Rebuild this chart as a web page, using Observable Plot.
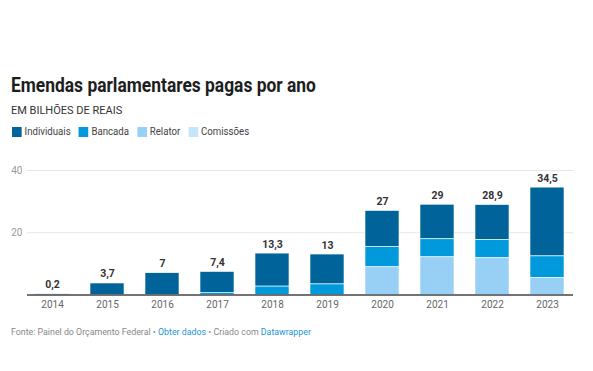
<!DOCTYPE html>
<html><head><meta charset="utf-8">
<script src="https://cdn.jsdelivr.net/npm/d3@7"></script>
<script src="https://cdn.jsdelivr.net/npm/@observablehq/plot@0.6"></script>
<style>
body{margin:0;background:#fff;font-family:Roboto,sans-serif;}
#wrap{position:relative;width:593px;height:371px;overflow:hidden;}
.t{position:absolute;left:11px;white-space:nowrap;}
#title{top:75px;font-size:20px;line-height:20px;font-weight:700;color:#1d1d1d;transform:scaleX(0.87);transform-origin:left center;}
#sub{top:105px;font-size:11px;line-height:11px;color:#333;}
#legend{top:126.5px;left:12px;font-size:10px;line-height:10px;color:#444;display:flex;align-items:center;transform:scaleX(0.965);transform-origin:left center;}
#legend span.sw{display:inline-block;width:10px;height:10px;margin-right:3px;}
#legend span.it{display:inline-flex;align-items:center;margin-right:8.5px;}
#chart{position:absolute;top:150px;left:0;}
#foot{top:326px;font-size:9.8px;line-height:12px;color:#888;transform:scaleX(0.9);transform-origin:left center;}
#foot a{color:#1c94d4;text-decoration:none;}
</style></head>
<body><div id="wrap">
<div id="title" class="t">Emendas parlamentares pagas por ano</div>
<div id="sub" class="t">EM BILHÕES DE REAIS</div>
<div id="legend" class="t"></div>
<div id="chart"></div>
<div id="foot" class="t">Fonte: Painel do Orçamento Federal • <a>Obter dados</a> • Criado com <a>Datawrapper</a></div>
</div>
<script>
const years = ["2014","2015","2016","2017","2018","2019","2020","2021","2022","2023"];
const individuais = [0.2, 3.7, 7, 6.7, 10.6, 9.6, 11.6, 11.1, 11.3, 22.1];
const bancada =     [0, 0, 0, 0.7, 2.7, 3.4, 6.5, 5.8, 5.8, 7.0];
const relator =     [0, 0, 0, 0, 0, 0, 8.9, 12.1, 11.8, 5.4];
const comissoes =   [0, 0, 0, 0, 0, 0, 0, 0, 0, 0];
const totals = [0.2, 3.7, 7, 7.4, 13.3, 13, 27, 29, 28.9, 34.5];
const totalLabels = ["0,2","3,7","7","7,4","13,3","13","27","29","28,9","34,5"];
const seriesNames = ["Individuais","Bancada","Relator","Comissões"];
const seriesColors = ["#00639a","#0099db","#98d0f5","#c5e6fa"];
const yTicks = [20, 40];

const seriesValues = [individuais, bancada, relator, comissoes];
const data = [];
seriesNames.forEach((s, si) => years.forEach((y, i) => data.push({year: y, series: s, value: seriesValues[si][i]})));
const totalData = years.map((y, i) => ({year: y, total: totals[i], label: totalLabels[i]}));

const legend = document.getElementById("legend");
seriesNames.forEach((s, i) => {
  const it = document.createElement("span"); it.className = "it";
  it.innerHTML = `<span class="sw" style="background:${seriesColors[i]}"></span>${s}`;
  legend.appendChild(it);
});

const chart = Plot.plot({
  width: 593, height: 170,
  marginLeft: 27, marginRight: 20, marginTop: 20, marginBottom: 25.5,
  style: {fontFamily: "Roboto, sans-serif", background: "#fff"},
  x: {type: "band", domain: years, paddingInner: 0.38, paddingOuter: 0.14, label: null},
  y: {domain: [0, 40], label: null},
  color: {domain: seriesNames, range: seriesColors},
  marks: [
    Plot.ruleY(yTicks, {stroke: "#e6e6e6"}),
    Plot.barY(data, Plot.stackY({x: "year", y: "value", fill: "series", order: ["Comissões","Relator","Bancada","Individuais"], stroke: "#fff", strokeWidth: 0.6})),
    Plot.ruleY([0], {stroke: "#444", strokeWidth: 1.3}),
    Plot.text(totalData, {x: "year", y: "total", text: "label", lineAnchor: "bottom", dy: -6, fontWeight: 700, fontSize: 10.5, fill: "#333"}),
    Plot.axisX({tickSize: 0, tickPadding: 6, fontSize: 10, color: "#666", label: null}),
    Plot.axisY({ticks: yTicks, tickSize: 0, tickPadding: 5, fontSize: 10, color: "#999", label: null})
  ]
});
document.getElementById("chart").appendChild(chart);
</script>
</body></html>
